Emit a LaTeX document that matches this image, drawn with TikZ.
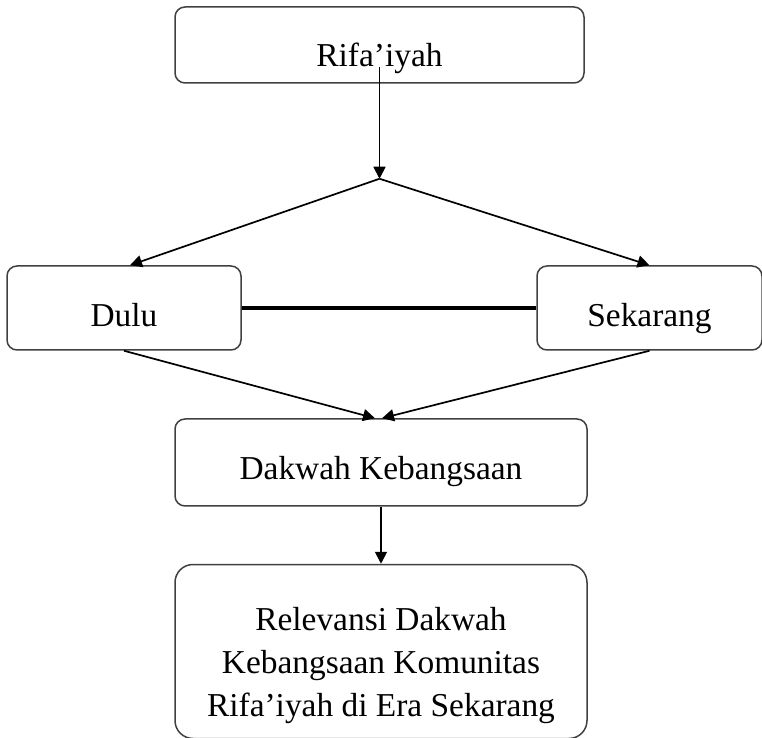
\documentclass[tikz,border=0pt]{standalone}
\usepackage{fontspec}
\setmainfont{Liberation Serif}
\usepackage{tikz}
\usetikzlibrary{arrows.meta,positioning}
\tikzset{
  box/.style={draw=black!75, rounded corners=5pt, line width=0.75pt, inner sep=0pt, align=center, font=\fontsize{16.7pt}{21.5pt}\selectfont},
  arrow/.style={-{Triangle[length=6pt,width=6pt]}, line width=0.85pt},
  bridge/.style={line width=2pt}
}
\begin{document}
\begin{tikzpicture}[x=0.5pt, y=-0.5pt]
  \useasboundingbox (0,0) rectangle (762,738);
  \node[box, minimum width=204.5pt, text height=30pt, text depth=8pt] (rif) at (379.5,45) {Rifa’iyah};
  \coordinate[below=47.5pt of rif.south] (split);
  \node[box, minimum width=117pt, text height=30.5pt, text depth=11.5pt] (dulu) at (124,308) {Dulu};
  \node[box, minimum width=112.5pt, text height=30.5pt, text depth=11.5pt] (sek) at (649.5,308) {Sekarang};
  \node[box, minimum width=206pt, text height=30.5pt, text depth=13pt] (dak) at (381,462.5) {Dakwah Kebangsaan};
  \node[box, below=28.5pt of dak, minimum width=206pt, text height=76pt, text depth=11pt, rounded corners=9pt] (rel) {Relevansi Dakwah\\Kebangsaan Komunitas\\Rifa’iyah di Era Sekarang};

  \draw[arrow] (rif.base) -- (split);
  \draw[arrow] (split) -- ([xshift=3pt]dulu.north);
  \draw[arrow] (split) -- (sek.north);
  \draw[bridge] (dulu) -- (sek);
  \draw[arrow] (dulu.south) -- ([xshift=-3pt]dak.north);
  \draw[arrow] (sek.south) -- ([xshift=0.5pt]dak.north);
  \draw[arrow] (dak) -- (rel);
\end{tikzpicture}
\end{document}
